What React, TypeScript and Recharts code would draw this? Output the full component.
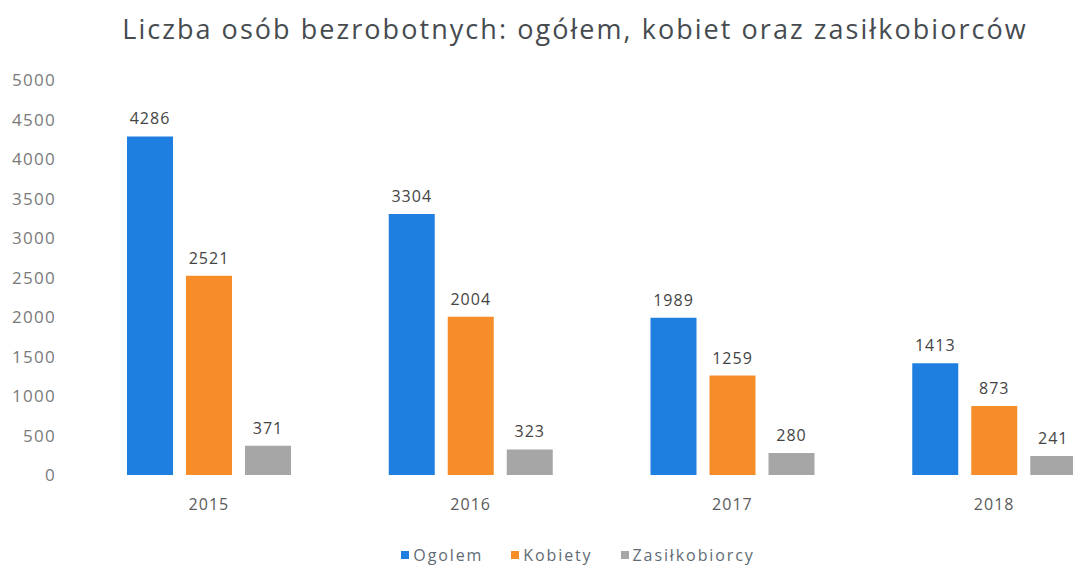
import React from "react";
import { BarChart, Bar, XAxis, YAxis, Legend, LabelList } from "recharts";

const years = ["2015", "2016", "2017", "2018"];
const ogolem = [4286, 3304, 1989, 1413];
const kobiety = [2521, 2004, 1259, 873];
const zasilkobiorcy = [371, 323, 280, 241];
const yTicks = [0, 500, 1000, 1500, 2000, 2500, 3000, 3500, 4000, 4500, 5000];

const data = years.map((y, i) => ({
  year: y,
  ogolem: ogolem[i],
  kobiety: kobiety[i],
  zasilkobiorcy: zasilkobiorcy[i],
}));

const FONT = "'Open Sans', 'Noto Sans', sans-serif";

const series = [
  { key: "ogolem", name: "Ogolem", color: "#1F7FE0" },
  { key: "kobiety", name: "Kobiety", color: "#F68D28" },
  { key: "zasilkobiorcy", name: "Zasiłkobiorcy", color: "#A6A6A6" },
];

const LegendContent = () => (
  <div style={{ display: "flex", justifyContent: "center", fontFamily: FONT, fontSize: 16, color: "#5f6b75", letterSpacing: 1.9 }}>
    {series.map((s) => (
      <div key={s.key} style={{ display: "flex", alignItems: "center", marginRight: 28 }}>
        <span style={{ display: "inline-block", width: 8, height: 8, background: s.color, marginRight: 4 }} />
        {s.name}
      </div>
    ))}
  </div>
);

export default function App() {
  return (
    <div style={{ position: "fixed", left: 0, top: 0, width: 1073, height: 565, overflow: "hidden", background: "#fff" }}>
      <div
        style={{
          position: "absolute",
          left: 0,
          top: 10,
          width: 1150,
          textAlign: "center",
          fontFamily: FONT,
          fontSize: 27,
          letterSpacing: 2.05,
          color: "#464b50",
          zIndex: 2,
        }}
      >
        Liczba osób bezrobotnych: ogółem, kobiet oraz zasiłkobiorców
      </div>
      <BarChart
        width={1140}
        height={565}
        data={data}
        margin={{ top: 80, right: 15, left: 0, bottom: 40 }}
        barGap={13}
        barSize={46}
      >
        <XAxis
          dataKey="year"
          axisLine={false}
          tickLine={false}
          tickMargin={18}
          height={30}
          tick={{ fill: "#5a5a5a", fontSize: 16, fontFamily: FONT, letterSpacing: 1 }}
        />
        <YAxis
          domain={[0, 5000]}
          ticks={yTicks}
          width={78}
          axisLine={false}
          tickLine={false}
          tickMargin={16}
          tick={{ fill: "#7a7a7a", fontSize: 17, fontFamily: FONT, letterSpacing: 1.3 }}
        />
        <Legend
          verticalAlign="bottom"
          content={<LegendContent />}
          wrapperStyle={{ top: 544, left: 382, width: 420, height: 20 }}
        />
        {series.map((s) => (
          <Bar key={s.key} dataKey={s.key} name={s.name} fill={s.color} isAnimationActive={false}>
            <LabelList
              dataKey={s.key}
              position="top"
              offset={12}
              style={{ fill: "#444", fontSize: 16, fontFamily: FONT, letterSpacing: 1 }}
            />
          </Bar>
        ))}
      </BarChart>
    </div>
  );
}
